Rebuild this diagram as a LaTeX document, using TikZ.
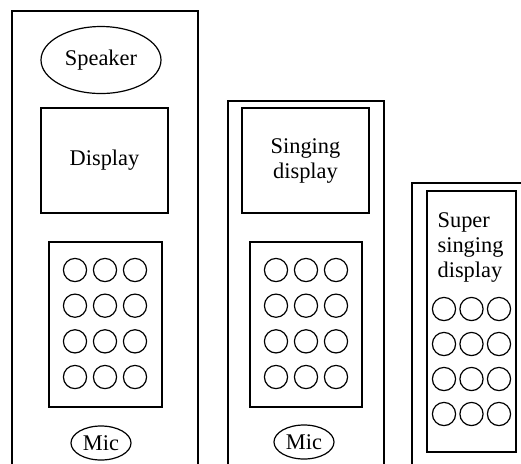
\documentclass[tikz,border=0pt]{standalone}
\usepackage{fontspec}
\setmainfont{Liberation Serif}
\usetikzlibrary{shapes.geometric}
\tikzset{
  unit/.style={draw, inner sep=0pt, align=center},
  key/.style={draw, circle, inner sep=0pt, minimum size=11.6pt},
}
\begin{document}
\begin{tikzpicture}[x=0.5pt, y=-0.5pt, line width=0.6pt, font=\fontsize{11.2}{12.5}\selectfont]
\useasboundingbox (0,0) rectangle (521,463);
\clip (0,0) rectangle (521,463);
% first phone
\draw (12,470) -- (12,11) -- (198,11) -- (198,470);
\node [unit, ellipse, minimum width=60pt, minimum height=33.5pt] (speaker) at (101,60) {Speaker};
\node [unit, minimum width=63.5pt, minimum height=52.5pt] (display) at (104.5,160.5) {Display};
\node [unit, minimum width=56.5pt, minimum height=82.5pt] (pad1) at (105.5,324.5) {};
\foreach \r in {0,...,3}
  \foreach \c in {0,1,2}
    \node [key] (a-\r-\c) at (75+30*\c, 270+35.67*\r) {};
\node [unit, ellipse, minimum width=30pt, minimum height=17pt] (mic1) at (101,443) {Mic};
% second phone
\draw (228,470) -- (228,101) -- (384,101) -- (384,470);
\node [unit, minimum width=63.5pt, minimum height=52.5pt] (singing) at (305.5,160.5) {Singing\\display};
\node [unit, minimum width=56pt, minimum height=82.5pt] (pad2) at (306,324.5) {};
\foreach \r in {0,...,3}
  \foreach \c in {0,1,2}
    \node [key] (b-\r-\c) at (276+30*\c, 270+35.67*\r) {};
\node [unit, ellipse, minimum width=30pt, minimum height=17pt] (mic2) at (304,442) {Mic};
% third phone
\draw (412,470) -- (412,183) -- (530,183);
\node [unit, minimum width=44.5pt, minimum height=130.5pt] (super) at (471.5,321.5) {};
\node [align=left, anchor=north west, inner sep=0pt] (supertext) at (437,212) {Super\\singing\\display};
\foreach \r in {0,...,3}
  \foreach \c in {0,1,2}
    \node [key] (c-\r-\c) at (444+27.5*\c, 309+35*\r) {};
\end{tikzpicture}
\end{document}
